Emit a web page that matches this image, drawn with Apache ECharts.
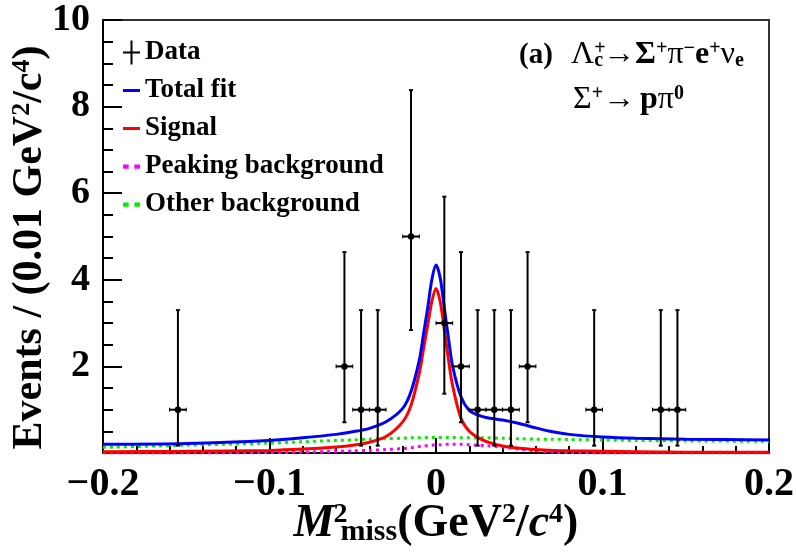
<!DOCTYPE html>
<html><head><meta charset="utf-8">
<script src="https://cdn.jsdelivr.net/npm/echarts@6/dist/echarts.min.js"></script>
<style>html,body{margin:0;padding:0;background:#fff}#c{width:796px;height:556px}</style>
</head><body><div id="c"></div>
<script>
// ---- data ----
const dataX = [-0.155, -0.055, -0.045, -0.035, -0.015, 0.005, 0.015, 0.025, 0.035, 0.045, 0.055, 0.095, 0.135, 0.145];
const dataY = [1, 2, 1, 1, 5, 3, 2, 1, 1, 1, 2, 1, 1, 1];
const dataLowEnd = [0.17, 0.71, 0.17, 0.17, 2.84, 1.37, 0.71, 0.17, 0.17, 0.17, 0.71, 0.17, 0.17, 0.17];
const dataHighEnd = [3.30, 4.64, 3.30, 3.30, 8.38, 5.92, 4.64, 3.30, 3.30, 3.30, 4.64, 3.30, 3.30, 3.30];
const binHalfWidth = 0.005;

const curveX = [-0.2, -0.15, -0.1, -0.08, -0.06, -0.05, -0.04, -0.03, -0.02, -0.015, -0.01, -0.0075, -0.005, -0.0025, 0,
  0.0025, 0.005, 0.0075, 0.01, 0.015, 0.02, 0.025, 0.03, 0.04, 0.05, 0.06, 0.07, 0.08, 0.1, 0.12, 0.15, 0.2];
const totalFit = [0.20, 0.22, 0.29, 0.35, 0.43, 0.49, 0.57, 0.72, 1.03, 1.42, 2.15, 2.75, 3.35, 4.00, 4.34,
  4.05, 3.35, 2.65, 2.00, 1.30, 0.98, 0.88, 0.82, 0.76, 0.68, 0.58, 0.49, 0.43, 0.37, 0.34, 0.32, 0.30];
const signal = [0.03, 0.04, 0.06, 0.09, 0.14, 0.18, 0.25, 0.38, 0.72, 1.10, 1.85, 2.40, 2.95, 3.50, 3.80,
  3.50, 2.85, 2.15, 1.55, 0.80, 0.50, 0.36, 0.27, 0.16, 0.11, 0.08, 0.06, 0.05, 0.04, 0.03, 0.02, 0.02];
const peakingBkg = [0.00, 0.00, 0.01, 0.02, 0.04, 0.05, 0.06, 0.08, 0.10, 0.12, 0.15, 0.16, 0.17, 0.18, 0.19,
  0.19, 0.20, 0.20, 0.20, 0.20, 0.19, 0.18, 0.17, 0.14, 0.09, 0.05, 0.02, 0.01, 0.00, 0.00, 0.00, 0.00];
const otherBkg = [0.13, 0.18, 0.23, 0.26, 0.29, 0.30, 0.32, 0.33, 0.34, 0.35, 0.35, 0.36, 0.36, 0.36, 0.36,
  0.36, 0.36, 0.36, 0.36, 0.35, 0.35, 0.35, 0.35, 0.34, 0.33, 0.32, 0.32, 0.31, 0.30, 0.29, 0.28, 0.27];

const xTicks = [-0.2, -0.1, 0, 0.1, 0.2];
const yTicks = [2, 4, 6, 8, 10];
const legendNames = ['Data', 'Total fit', 'Signal', 'Peaking background', 'Other background'];

// ---- chart ----
const FONT = 'Liberation Serif';
const pair = arr => curveX.map((x, i) => [x, arr[i]]);
const chart = echarts.init(document.getElementById('c'), null, {renderer: 'canvas'});

const richX = {
  b: {fontFamily: FONT, fontWeight: 'bold', fontSize: 46, color: '#000', lineHeight: 46, verticalAlign: 'top'},
  it: {fontFamily: FONT, fontWeight: 'bold', fontStyle: 'italic', fontSize: 46, color: '#000', lineHeight: 46, verticalAlign: 'top'},
  sup: {fontFamily: FONT, fontWeight: 'bold', fontSize: 28, color: '#000', lineHeight: 28, verticalAlign: 'top', width: 0, align: 'left', padding: [0, 0, 0, 6]},
  sup2: {fontFamily: FONT, fontWeight: 'bold', fontSize: 28, color: '#000', lineHeight: 28, verticalAlign: 'top'},
  sub: {fontFamily: FONT, fontWeight: 'bold', fontSize: 30, color: '#000', lineHeight: 30, verticalAlign: 'bottom', padding: [24, 0, 0, 0]}
};
const richY = {
  b: {fontFamily: FONT, fontWeight: 'bold', fontSize: 42, color: '#000'},
  sup2: {fontFamily: FONT, fontWeight: 'bold', fontSize: 26, color: '#000', verticalAlign: 'top'}
};

const annoRich = {
  a: {fontFamily: FONT, fontWeight: 'bold', fontSize: 29, color: '#000'},
  b: {fontFamily: FONT, fontWeight: 'bold', fontSize: 32, color: '#000'},
  bp: {fontFamily: FONT, fontWeight: 'bold', fontSize: 32, color: '#000', padding: [0, 0, 0, 5]},
  n: {fontFamily: FONT, fontWeight: 'normal', fontSize: 32, color: '#000'},
  sup0: {fontFamily: FONT, fontWeight: 'bold', fontSize: 20, color: '#000', verticalAlign: 'top', width: 0, align: 'left'},
  sup: {fontFamily: FONT, fontWeight: 'bold', fontSize: 20, color: '#000', verticalAlign: 'top'},
  sub: {fontFamily: FONT, fontWeight: 'bold', fontSize: 20, color: '#000', verticalAlign: 'bottom'}
};

const LINE_ICON = 'path://M0,0 L17,0 L17,3 L0,3 Z';
const DOT_ICON = 'path://M0,0 L4,0 L4,3 L0,3 Z M8,0 L12,0 L12,3 L8,3 Z';

const option = {
  animation: false,
  backgroundColor: '#fff',
  grid: {left: 103, right: 27, top: 20, bottom: 103, show: true, borderColor: '#333', borderWidth: 2,
    backgroundColor: 'transparent', containLabel: false, outerBoundsMode: 'none'},
  xAxis: {
    type: 'value', min: xTicks[0], max: xTicks[xTicks.length - 1], interval: 0.1,
    axisLine: {show: true, onZero: false, lineStyle: {color: '#000', width: 2}},
    axisTick: {show: true, inside: true, length: 15, lineStyle: {color: '#000', width: 2}},
    minorTick: {show: true, splitNumber: 5, length: 7, lineStyle: {color: '#000', width: 2}},
    splitLine: {show: false},
    axisLabel: {
      margin: 12, color: '#000', fontFamily: FONT, fontWeight: 'bold', fontSize: 40,
      formatter: v => { const t = xTicks.find(k => Math.abs(k - v) < 1e-9); if (t === undefined) return ''; return t === 0 ? '0' : (t < 0 ? '\u2212' : '') + Math.abs(t).toFixed(1); }
    },
    name: '{it|M}{sup|2}{sub|miss}{b|(GeV}{sup2|2}{b|/}{it|c}{sup2|4}{b|)}',
    nameLocation: 'middle', nameGap: 48, nameMoveOverlap: false,
    nameTextStyle: {rich: richX, fontSize: 46}
  },
  yAxis: {
    type: 'value', min: 0, max: yTicks[yTicks.length - 1], interval: 2,
    axisLine: {show: true, onZero: false, lineStyle: {color: '#000', width: 2}},
    axisTick: {show: true, inside: true, length: 19, lineStyle: {color: '#000', width: 2}},
    minorTick: {show: true, splitNumber: 4, length: 10, lineStyle: {color: '#000', width: 2}},
    splitLine: {show: false},
    axisLabel: {
      margin: 13, color: '#000', fontFamily: FONT, fontWeight: 'bold', fontSize: 38,
      formatter: v => yTicks.includes(v) ? String(v) : ''
    },
    name: '{b|Events / (0.01 GeV}{sup2|2}{b|/c}{sup2|4}{b|)}',
    nameLocation: 'middle', nameGap: 52, nameRotate: 90, nameMoveOverlap: false,
    nameTextStyle: {rich: richY, fontSize: 42, padding: [0, 22, 0, 0]}
  },
  legend: {
    orient: 'vertical', left: 123, top: 39, padding: 0, itemGap: 11,
    itemWidth: 17, itemHeight: 24,
    textStyle: {fontFamily: FONT, fontWeight: 'bold', fontSize: 27, color: '#000', lineHeight: 26},
    data: [
      {name: legendNames[0], icon: 'path://M0,11 L17,11 L17,13 L0,13 Z M7.5,0 L9.5,0 L9.5,24 L7.5,24 Z', itemStyle: {color: '#000'}},
      {name: legendNames[1], icon: LINE_ICON, itemStyle: {color: '#0000ff'}},
      {name: legendNames[2], icon: LINE_ICON, itemStyle: {color: '#ff0000'}},
      {name: legendNames[3], icon: DOT_ICON, itemStyle: {color: '#ff00ff'}},
      {name: legendNames[4], icon: DOT_ICON, itemStyle: {color: '#00ee00'}}
    ]
  },
  graphic: [
    {type: 'text', left: 519, top: 41, style: {text: '{a|(a)}', rich: annoRich}},
    {type: 'text', left: 571, top: 39, style: {text: '{n|\u039B}{sup0|+}{sub|c}{b|\u2192\u03A3}{sup|+}{n|\u03C0}{sup|\u2212}{b|e}{sup|+}{n|\u03BD}{sub|e}', rich: annoRich}},
    {type: 'text', left: 573, top: 84, style: {text: '{n|\u03A3}{sup|+}{b|\u2192}{bp|p}{n|\u03C0}{sup|0}', rich: annoRich}}
  ],
  series: [
    {name: legendNames[4], type: 'line', data: pair(otherBkg), symbol: 'none', smooth: 0.3,
      lineStyle: {color: '#00ee00', width: 3, type: [3, 4]}, itemStyle: {color: '#00ee00'}, z: 2},
    {name: legendNames[3], type: 'line', data: pair(peakingBkg), symbol: 'none', smooth: 0.3,
      lineStyle: {color: '#ff00ff', width: 3, type: [3, 4]}, itemStyle: {color: '#ff00ff'}, z: 2},
    {name: legendNames[2], type: 'line', data: pair(signal), symbol: 'none', smooth: 0.3,
      lineStyle: {color: '#ff0000', width: 3}, itemStyle: {color: '#ff0000'}, z: 3},
    {name: legendNames[1], type: 'line', data: pair(totalFit), symbol: 'none', smooth: 0.3,
      lineStyle: {color: '#0000ff', width: 3}, itemStyle: {color: '#0000ff'}, z: 4},
    {name: legendNames[0], type: 'custom', z: 5,
      itemStyle: {color: '#000'},
      data: dataX.map((x, i) => [x, dataY[i], dataLowEnd[i], dataHighEnd[i]]),
      encode: {x: 0, y: 1},
      renderItem: (params, api) => {
        const x = api.value(0), y = api.value(1), lo = api.value(2), hi = api.value(3);
        const c = api.coord([x, y]);
        const pl = api.coord([x - binHalfWidth, y]), pr = api.coord([x + binHalfWidth, y]);
        const pt = api.coord([x, hi]), pb = api.coord([x, lo]);
        const st = {stroke: '#000', lineWidth: 2};
        return {type: 'group', children: [
          {type: 'line', shape: {x1: pl[0], y1: c[1], x2: pr[0], y2: c[1]}, style: st},
          {type: 'line', shape: {x1: c[0], y1: pt[1], x2: c[0], y2: pb[1]}, style: st},
          {type: 'line', shape: {x1: c[0] - 2, y1: pt[1], x2: c[0] + 2, y2: pt[1]}, style: st},
          {type: 'line', shape: {x1: c[0] - 2, y1: pb[1], x2: c[0] + 2, y2: pb[1]}, style: st},
          {type: 'line', shape: {x1: pl[0], y1: c[1] - 2, x2: pl[0], y2: c[1] + 2}, style: {stroke: '#000', lineWidth: 1}},
          {type: 'line', shape: {x1: pr[0], y1: c[1] - 2, x2: pr[0], y2: c[1] + 2}, style: {stroke: '#000', lineWidth: 1}},
          {type: 'circle', shape: {cx: c[0], cy: c[1], r: 3.2}, style: {fill: '#000'}}
        ]};
      }
    }
  ]
};
chart.setOption(option);
</script>
</body></html>
